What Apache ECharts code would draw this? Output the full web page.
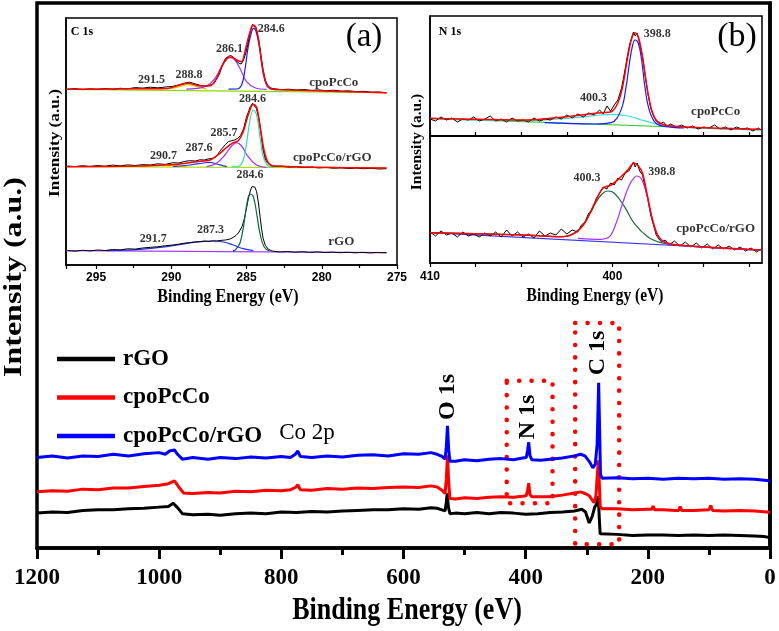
<!DOCTYPE html>
<html>
<head>
<meta charset="utf-8">
<script src="https://cdn.jsdelivr.net/npm/echarts@6.0.0/dist/echarts.min.js"></script>
<style>
html, body { margin: 0; padding: 0; background: #fff; }
#main { width: 779px; height: 631px; }
</style>
</head>
<body>
<div id="main"></div>
<script>
// survey spectra: [binding energy (eV), intensity (a.u.)]
const surveyRGO = [[1200,6.4],[1175,6.6],[1150,6.5],[1125,6.9],[1100,7.0],[1075,7.0],[1050,7.2],[1025,7.3],[1000,7.5],[985,7.6],[977,8.2],[970,7.4],[962,6.3],[945,6.1],[920,6.2],[900,6.0],[875,6.3],[850,6.4],[825,6.3],[800,6.6],[775,6.5],[750,6.7],[725,6.6],[700,6.8],[675,6.9],[650,7.0],[625,7.0],[600,7.2],[575,7.1],[555,7.4],[545,7.3],[537,7.0],[532,6.8],[530,8.3],[528.5,10.0],[526.5,7.5],[524,6.3],[515,6.4],[500,6.3],[480,6.5],[460,6.3],[440,6.5],[420,6.4],[400,6.2],[380,6.3],[360,6.5],[340,6.6],[320,6.8],[308,7.1],[302,6.6],[296,4.6],[291,5.8],[287,7.5],[284,8.0],[281,9.5],[279.5,5.5],[278,2.6],[275,2.4],[250,2.5],[225,2.3],[200,2.4],[175,2.4],[150,2.3],[125,2.4],[100,2.3],[75,2.4],[50,2.3],[25,2.2],[10,2.1],[0,1.9]];
const surveyPc = [[1200,10.3],[1175,10.5],[1150,10.4],[1125,10.8],[1100,10.7],[1075,11.0],[1050,11.0],[1025,11.3],[1000,11.5],[985,11.8],[975,12.3],[968,11.2],[960,10.1],[945,10.0],[920,10.2],[900,10.1],[875,10.4],[850,10.3],[825,10.6],[800,10.5],[785,10.7],[777,11.1],[773,11.6],[769,10.7],[750,10.6],[725,10.9],[700,10.8],[675,11.0],[650,10.9],[625,11.1],[600,11.2],[575,11.1],[555,11.4],[545,11.2],[537,10.6],[532,10.0],[530,12.5],[528,17.0],[526,12.0],[524,9.1],[515,9.0],[500,9.2],[480,9.1],[460,9.3],[440,9.4],[420,9.3],[405,9.5],[399,9.6],[397,10.6],[395,11.9],[393,9.8],[390,9.4],[375,9.4],[360,9.4],[340,9.7],[320,10.1],[310,10.3],[303,10.0],[296,9.6],[291,8.8],[288,8.3],[285,9.5],[283,13.0],[281,16.1],[279.5,12.0],[278,7.6],[275,7.2],[250,7.2],[225,7.0],[200,7.1],[194,7.1],[191.5,7.7],[189,7.0],[175,7.0],[155,6.9],[149.5,6.9],[147,7.6],[144.5,6.9],[125,6.9],[100,7.0],[97,7.8],[94,6.9],[75,6.8],[50,6.9],[25,6.8],[5,6.6],[0,6.5]];
const surveyPcRGO = [[1200,16.6],[1175,16.9],[1150,16.5],[1125,16.9],[1100,16.8],[1075,17.2],[1050,16.9],[1025,17.3],[1000,17.5],[990,17.2],[983,17.8],[975,18.0],[970,17.2],[962,16.3],[945,16.6],[920,16.3],[900,16.6],[875,16.4],[850,16.7],[825,16.5],[800,16.8],[785,16.6],[777,17.2],[773,17.8],[769,16.8],[750,16.6],[725,16.9],[700,16.7],[675,17.0],[650,17.1],[625,16.9],[600,17.3],[575,17.2],[555,17.5],[545,17.2],[537,16.8],[532,16.3],[530,18.5],[528,22.4],[526,18.0],[524,15.9],[515,15.9],[500,16.2],[480,16.0],[460,16.3],[440,16.4],[420,16.2],[405,16.5],[399,16.6],[397,17.8],[395,19.4],[393,17.0],[390,16.2],[375,16.1],[360,16.3],[340,16.5],[320,16.9],[310,17.2],[303,16.9],[296,15.9],[290,14.7],[286,15.4],[283,19.0],[280.5,30.3],[279,22.0],[277.5,13.5],[275,12.8],[250,12.9],[225,12.7],[200,12.8],[175,12.6],[150,12.8],[125,12.7],[100,12.8],[75,12.6],[50,12.7],[25,12.6],[5,12.4],[0,12.2]];
const surveyNames = ['rGO', 'cpoPcCo', 'cpoPcCo/rGO'];
// dotted regions around N 1s and C 1s: [[eV, intensity], [eV, intensity]]
const boxN1s = [[431, 30.7], [356, 8.2]];
const boxC1s = [[319, 41.3], [247, 0.7]];

// inset (a) C 1s
const c1sPcRaw = [[296.9,175.7],[296.4,176.4],[295.9,175.4],[295.4,176.2],[294.9,175.6],[294.4,176.5],[293.9,175.8],[293.4,176.7],[292.9,176.2],[292.4,177.4],[291.9,176.9],[291.4,177.8],[290.9,177.2],[290.4,178.0],[289.9,178.6],[289.5,180.2],[289.1,181.9],[288.8,182.8],[288.5,181.5],[288.1,179.8],[287.8,179.0],[287.5,179.5],[287.2,181.0],[287.0,185.5],[286.8,191.0],[286.6,200.0],[286.4,206.7],[286.2,208.7],[286.05,209.5],[285.9,208.0],[285.7,204.5],[285.5,201.7],[285.35,201.0],[285.2,205.0],[285.05,212.0],[284.9,222.0],[284.75,233.0],[284.6,240.5],[284.5,239.5],[284.35,236.0],[284.2,226.0],[284.05,210.0],[283.9,195.0],[283.75,184.5],[283.6,179.5],[283.4,177.0],[283.1,176.0],[282.7,175.3],[282.2,175.8],[281.7,175.0],[281.2,175.5],[280.7,174.6],[280.2,175.1],[279.7,174.3],[279.2,174.8],[278.7,173.9],[278.2,174.2],[277.7,173.4],[277.2,173.7],[276.7,172.8],[276.2,173.0],[275.7,172.2]];
const c1sPcFit = [[296.96,175.7],[292.0,176.2],[290.31,176.5],[289.43,180.0],[288.87,181.7],[288.1,179.0],[287.43,179.2],[286.99,186.7],[286.66,198.3],[286.21,207.7],[285.99,208.0],[285.66,205.0],[285.33,203.3],[285.11,213.3],[284.89,226.7],[284.66,238.3],[284.55,240.0],[284.38,237.7],[284.15,220.0],[283.93,196.7],[283.67,181.0],[283.33,176.3],[282.12,175.0],[275.69,172.3]];
const c1sPc2846 = [[286.2,175.9],[285.66,176.0],[285.33,180.0],[285.11,195.0],[284.89,218.3],[284.66,233.3],[284.55,236.7],[284.38,234.3],[284.15,218.3],[283.93,195.0],[283.67,180.0],[283.33,175.9],[282.8,175.4]];
const c1sPc2861 = [[289.0,175.9],[288.32,176.6],[287.65,179.0],[287.1,186.7],[286.66,198.3],[286.32,205.7],[286.06,207.3],[285.77,205.0],[285.44,196.7],[285.0,183.3],[284.44,177.3],[283.67,175.7]];
const c1sPc2888 = [[290.31,175.9],[289.43,178.3],[288.9,180.3],[288.32,178.3],[287.65,175.9]];
const c1sPcBase = [[296.96,175.7],[275.69,172.3]];
const c1sMixRaw = [[296.9,99.0],[296.4,98.4],[295.9,99.3],[295.4,98.6],[294.9,99.5],[294.4,98.8],[293.9,99.9],[293.4,99.2],[292.9,100.1],[292.4,99.5],[291.9,100.4],[291.4,100.0],[290.9,101.2],[290.4,100.6],[289.9,102.3],[289.5,102.0],[289.1,103.6],[288.8,104.3],[288.4,104.0],[288.1,105.2],[287.8,105.0],[287.5,106.2],[287.2,106.7],[287.0,108.5],[286.8,113.3],[286.6,117.0],[286.4,120.5],[286.2,123.5],[286.0,124.2],[285.8,125.0],[285.6,126.5],[285.4,129.5],[285.2,136.0],[285.0,148.3],[284.85,154.0],[284.75,158.3],[284.6,161.7],[284.5,161.0],[284.35,156.7],[284.2,148.0],[284.05,133.0],[283.9,115.0],[283.75,106.0],[283.6,102.0],[283.4,99.5],[283.1,98.6],[282.7,98.9],[282.2,97.9],[281.7,98.3],[281.2,97.5],[280.7,97.9],[280.2,97.1],[279.7,97.6],[279.2,96.8],[278.7,97.2],[278.2,96.5],[277.7,96.9],[277.2,96.3],[276.7,96.7],[276.2,96.0],[275.7,96.3]];
const c1sMixFit = [[296.96,98.3],[292.08,99.0],[290.53,100.0],[289.43,101.0],[288.32,103.3],[287.43,105.0],[286.77,111.7],[286.32,117.7],[285.88,122.3],[285.55,124.3],[285.22,133.3],[284.89,150.0],[284.55,160.7],[284.33,157.7],[284.11,140.0],[283.84,115.0],[283.56,102.3],[283.22,99.0],[275.69,97.0]];
const c1sMix2846 = [[286.0,98.2],[285.55,98.5],[285.22,105.0],[285.0,121.7],[284.77,145.0],[284.55,155.0],[284.33,150.0],[284.11,128.3],[283.89,108.3],[283.56,99.0],[283.22,97.7]];
const c1sMix2857 = [[287.65,98.3],[286.99,101.7],[286.44,110.0],[285.99,119.0],[285.66,122.3],[285.33,119.0],[284.89,108.3],[284.33,100.0],[283.67,97.7]];
const c1sMix2876 = [[289.87,98.3],[288.76,100.0],[287.88,102.0],[287.43,102.7],[286.99,101.0],[286.32,98.3]];
const c1sMix2907 = [[292.08,98.3],[290.53,99.7],[288.98,98.3]];
const c1sMixBase = [[296.96,98.3],[275.69,97.0]];
const c1sRgoRaw = [[296.9,14.3],[296.4,13.8],[295.9,14.7],[295.4,14.1],[294.9,15.0],[294.4,14.5],[293.9,15.4],[293.4,15.1],[292.9,16.2],[292.4,15.9],[291.9,17.0],[291.4,17.7],[290.9,18.2],[290.4,19.3],[289.9,20.0],[289.5,20.8],[289.1,21.9],[288.8,22.3],[288.4,23.1],[288.1,23.3],[287.8,24.0],[287.5,23.6],[287.2,24.2],[287.0,24.0],[286.7,24.6],[286.4,25.0],[286.1,26.0],[285.9,27.5],[285.7,29.5],[285.5,33.0],[285.3,38.5],[285.15,46.0],[285.0,57.0],[284.9,65.0],[284.75,74.0],[284.65,78.3],[284.55,80.0],[284.45,78.0],[284.33,73.3],[284.2,61.0],[284.1,48.3],[284.0,36.0],[283.9,26.7],[283.75,19.5],[283.55,15.7],[283.3,14.0],[282.8,13.0],[282.3,13.5],[281.8,12.8],[281.3,13.3],[280.8,12.6],[280.3,13.1],[279.8,12.5],[279.3,12.9],[278.8,12.3],[278.3,12.7],[277.8,12.2],[277.3,12.6],[276.8,12.1],[276.3,12.5],[275.7,12.2]];
const c1sRgo2846 = [[285.9,14.3],[285.77,14.8],[285.44,21.7],[285.17,41.7],[284.95,63.3],[284.77,71.0],[284.55,68.3],[284.33,51.7],[284.11,31.7],[283.84,18.3],[283.45,13.7]];
const c1sRgo2873 = [[294.3,14.3],[292.08,15.7],[290.31,18.3],[288.98,21.7],[288.1,23.3],[287.32,24.0],[286.55,23.0],[285.88,20.0],[285.22,16.3],[284.55,14.3]];
const c1sRgoBase = [[296.96,14.3],[275.69,12.3]];
const c1sPeakLabels = [['284.6',283.35,236],['286.1',286.14,216],['288.8',288.83,190],['291.5',291.31,185],['284.6',284.6,166],['285.7',286.5,132.5],['287.6',288.16,117.5],['290.7',290.52,109],['284.6',284.77,90],['287.3',287.4,35],['291.7',291.2,26]];
const c1sSampleLabels = [['cpoPcCo',279.2,182.5],['cpoPcCo/rGO',279.3,107],['rGO',278.7,23]];

// inset (b) N 1s
const n1sPcRaw = [[410.0,17],[409.7,15],[409.4,19],[409.1,16],[408.8,18],[408.5,14],[408.2,17],[407.9,16],[407.6,19],[407.3,15],[407.0,17],[406.7,20],[406.4,15],[406.1,17],[405.8,14],[405.5,18],[405.2,15],[404.9,16],[404.6,14],[404.3,18],[404.0,15],[403.7,17],[403.4,16],[403.1,19],[402.8,17],[402.5,21],[402.2,18],[401.9,22],[401.6,19],[401.3,23],[401.0,21],[400.7,26],[400.5,22],[400.3,30],[400.1,25],[399.9,31],[399.7,36],[399.5,48],[399.35,62],[399.2,78],[399.05,92],[398.95,98],[398.85,104],[398.75,100],[398.65,103],[398.55,96],[398.45,88],[398.35,79],[398.2,60],[398.05,42],[397.9,28],[397.75,20],[397.6,15],[397.4,12],[397.2,14],[397.0,10],[396.8,12],[396.5,9],[396.2,11],[395.9,8],[395.6,10],[395.3,7],[395.0,9],[394.7,8],[394.4,11],[394.1,7],[393.8,9],[393.5,6],[393.2,9],[392.9,7],[392.6,8],[392.3,5],[392.0,8],[391.85,6]];
const n1sPcFit = [[410,17.7],[404.63,16.0],[402.8,18.7],[401.71,21.0],[400.62,23.3],[400.07,24.3],[399.71,32.7],[399.44,49.3],[399.16,79.3],[398.94,97.7],[398.76,103.3],[398.58,99.3],[398.35,79.3],[398.11,49.3],[397.85,26.0],[397.52,14.3],[396.8,10.0],[391.88,6.7]];
const n1sPc3988 = [[403.72,13.3],[400.98,12.0],[400.07,13.3],[399.53,26.0],[399.25,49.3],[399.07,72.7],[398.89,91.0],[398.76,96.0],[398.58,92.7],[398.4,76.0],[398.22,49.3],[397.98,26.0],[397.61,12.7],[396.98,9.3],[396.07,8.0]];
const n1sPc4003 = [[410,17.3],[404.63,15.3],[401.89,18.7],[400.62,21.0],[399.89,21.7],[399.16,20.0],[398.25,15.3],[397.34,11.0],[396.07,8.7],[391.88,6.0]];
const n1sPcBase = [[410,17.7],[391.88,6.0]];
const n1sMixRaw = [[410.0,31],[409.7,27],[409.4,32],[409.1,28],[408.8,30],[408.5,26],[408.2,31],[407.9,27],[407.6,29],[407.3,26],[407.0,30],[406.7,27],[406.4,31],[406.1,26],[405.8,33],[405.5,27],[405.2,31],[404.9,26],[404.6,29],[404.3,25],[404.0,32],[403.7,27],[403.4,30],[403.1,28],[402.8,34],[402.5,29],[402.2,33],[401.9,31],[401.7,38],[401.5,41],[401.3,50],[401.1,53],[400.9,64],[400.7,70],[400.5,76],[400.3,74],[400.1,80],[399.9,78],[399.7,85],[399.5,83],[399.3,90],[399.1,92],[398.95,97],[398.85,101],[398.75,96],[398.65,100],[398.5,92],[398.35,88],[398.2,75],[398.05,63],[397.9,48],[397.75,38],[397.6,28],[397.45,24],[397.3,21],[397.1,23],[396.9,18],[396.6,22],[396.3,17],[396.0,21],[395.7,16],[395.4,20],[395.1,15],[394.8,19],[394.5,14],[394.2,18],[393.9,14],[393.6,17],[393.3,13],[393.0,16],[392.7,12],[392.4,15],[392.1,11],[391.85,14]];
const n1sMixFit = [[410,30.3],[404.63,27.7],[402.8,26.3],[402.08,29.7],[401.53,39.7],[400.98,59.7],[400.53,74.7],[400.07,78.0],[399.62,84.7],[399.16,93.0],[398.83,99.7],[398.62,98.0],[398.35,89.7],[398.07,66.3],[397.8,43.0],[397.52,28.0],[397.16,21.3],[396.43,18.0],[391.88,13.0]];
const n1sMix4003 = [[410,30.3],[404.63,28.0],[402.8,26.3],[402.08,30.3],[401.53,39.7],[400.98,58.0],[400.62,68.0],[400.26,72.0],[399.89,69.7],[399.34,56.3],[398.8,39.7],[398.07,26.3],[397.34,20.3],[396.43,17.7],[391.88,13.0]];
const n1sMix3988 = [[401.89,24.7],[400.62,23.7],[400.16,26.3],[399.8,39.7],[399.44,59.7],[399.07,78.0],[398.8,85.3],[398.67,87.0],[398.43,84.7],[398.16,71.3],[397.89,49.7],[397.61,31.3],[397.34,23.0],[396.8,18.7],[391.88,13.0]];
const n1sMixBase = [[410,30.3],[391.88,13.0]];
const n1sTopLabels = [['398.8',397.54,102],['400.3',401.04,38]];
const n1sBottomLabels = [['400.3',401.39,85],['398.8',397.3,91]];
const n1sSampleTop = [['cpoPcCo',394.34,24]];
const n1sSampleBottom = [['cpoPcCo/rGO',394.34,34]];
const n1sTicks = [392.5, 395, 397.5, 400, 402.5, 405, 407.5, 410];
const n1sTickLabels = [400, 410];

const SERIF = '"Liberation Serif", "Times New Roman", serif';
const SANS = '"Liberation Sans", Arial, sans-serif';

const chart = echarts.init(document.getElementById('main'));

function line(name, data, color, width, idx, smooth) {
    return {
        type: 'line', name: name, data: data,
        xAxisIndex: idx, yAxisIndex: idx,
        symbol: 'none', silent: true,
        smooth: smooth || false,
        lineStyle: {color: color, width: width},
        itemStyle: {color: color}
    };
}

function labels(list, idx, size) {
    return {
        type: 'scatter', xAxisIndex: idx, yAxisIndex: idx,
        symbolSize: 1, silent: true,
        itemStyle: {color: 'rgba(0,0,0,0)'},
        data: list.map(function (l) { return {name: l[0], value: [l[1], l[2]]}; }),
        label: {show: true, position: 'inside', formatter: '{b}', fontFamily: SERIF,
                fontWeight: 'bold', fontSize: size, color: '#000'}
    };
}

function insetX(idx, min, max, extra) {
    let ax = {
        gridIndex: idx, type: 'value', min: min, max: max, inverse: true,
        axisLine: {onZero: false, lineStyle: {color: '#000', width: 1.5}},
        axisTick: {length: 4, lineStyle: {color: '#000', width: 1.2}},
        splitLine: {show: false},
        axisLabel: {fontFamily: SANS, fontWeight: 'bold', fontSize: 12, color: '#000', margin: 7}
    };
    return Object.assign(ax, extra);
}

function plainY(idx, max, width) {
    return {
        gridIndex: idx, type: 'value', min: 0, max: max,
        axisLine: {show: true, lineStyle: {color: '#000', width: width}},
        axisTick: {show: false}, axisLabel: {show: false}, splitLine: {show: false}
    };
}

function text(str, x, y, size, weight, opts) {
    return Object.assign({
        type: 'text', x: x, y: y, silent: true,
        style: {text: str, fontFamily: SERIF, fontSize: size, fontWeight: weight,
                fill: '#000', align: 'center', verticalAlign: 'middle'}
    }, opts || {});
}

const dotted = {
    color: 'rgba(0,0,0,0)', borderColor: '#ff0000', borderWidth: 4.5,
    borderType: [0.1, 12.3], borderCap: 'round'
};

const survey = [
    line(surveyNames[0], surveyRGO, '#000000', 3, 0),
    line(surveyNames[1], surveyPc, '#ff0000', 3, 0),
    line(surveyNames[2], surveyPcRGO, '#0000ff', 3, 0)
];
survey[2].markArea = {
    silent: true, itemStyle: dotted, label: {show: false},
    data: [[{coord: boxN1s[0]}, {coord: boxN1s[1]}], [{coord: boxC1s[0]}, {coord: boxC1s[1]}]]
};

const option = {
    animation: false,
    backgroundColor: '#fff',
    grid: [
        {left: 37, top: 3, width: 733, height: 545, show: true, borderColor: '#000', borderWidth: 3.5},
        {left: 66, top: 18, width: 331, height: 247, show: true, borderColor: '#000', borderWidth: 1.5},
        {left: 430, top: 16, width: 332, height: 120, show: true, borderColor: '#000', borderWidth: 1.5},
        {left: 430, top: 136, width: 332, height: 127, show: true, borderColor: '#000', borderWidth: 1.5}
    ],
    xAxis: [
        {
            gridIndex: 0, type: 'value', min: 0, max: 1200, interval: 200, inverse: true,
            axisLine: {onZero: false, lineStyle: {color: '#000', width: 3.5}},
            axisTick: {length: 11, lineStyle: {color: '#000', width: 3}},
            minorTick: {show: true, splitNumber: 2, length: 7, lineStyle: {color: '#000', width: 3}},
            splitLine: {show: false},
            axisLabel: {fontFamily: SERIF, fontWeight: 'bold', fontSize: 23, color: '#000', margin: 19,
                        formatter: function (v) { return String(v); }}
        },
        insetX(1, 275, 297, {interval: 5,
            minorTick: {show: true, splitNumber: 2, length: 3, lineStyle: {color: '#000', width: 1.2}},
            axisLabel: {fontFamily: SANS, fontWeight: 'bold', fontSize: 12, color: '#000', margin: 7,
                        showMaxLabel: false}}),
        insetX(2, 391.8, 410, {
            axisTick: {inside: true, length: 4, customValues: n1sTicks, lineStyle: {color: '#000', width: 1.2}},
            axisLabel: {show: false}}),
        insetX(3, 391.8, 410, {
            axisTick: {length: 4, customValues: n1sTicks, lineStyle: {color: '#000', width: 1.2}},
            axisLabel: {customValues: n1sTickLabels, fontFamily: SANS, fontWeight: 'bold', fontSize: 12, color: '#000', margin: 8}})
    ],
    yAxis: [plainY(0, 100, 3.5), plainY(1, 247, 1.5), plainY(2, 120, 1.5), plainY(3, 127, 1.5)],
    legend: {
        data: surveyNames, orient: 'vertical', left: 52, top: 342,
        icon: 'rect', itemWidth: 58, itemHeight: 4.5, itemGap: 14.5, selectedMode: false,
        textStyle: {fontFamily: SERIF, fontWeight: 'bold', fontSize: 23, color: '#000',
                    lineHeight: 24, padding: [0, 0, 0, 3]}
    },
    series: survey.concat([
        // C 1s, cpoPcCo
        line('a1base', c1sPcBase, '#88dd00', 1.2, 1),
        line('a1c3', c1sPc2888, '#e0c000', 1.2, 1, 0.4),
        line('a1c2', c1sPc2861, '#9933ff', 1.2, 1, 0.4),
        line('a1c1', c1sPc2846, '#1a1aff', 1.2, 1, 0.4),
        line('a1raw', c1sPcRaw, '#000', 1, 1),
        line('a1fit', c1sPcFit, '#ff0000', 1.5, 1, 0.3),
        // C 1s, cpoPcCo/rGO
        line('a2base', c1sMixBase, '#aadd00', 1.2, 1),
        line('a2c4', c1sMix2907, '#e0c000', 1.2, 1, 0.4),
        line('a2c3', c1sMix2876, '#2233ff', 1.2, 1, 0.4),
        line('a2c2', c1sMix2857, '#9933ff', 1.2, 1, 0.4),
        line('a2c1', c1sMix2846, '#33e0a8', 1.2, 1, 0.4),
        line('a2raw', c1sMixRaw, '#000', 1, 1),
        line('a2fit', c1sMixFit, '#ff0000', 1.5, 1, 0.3),
        // C 1s, rGO
        line('a3base', c1sRgoBase, '#a040ff', 1.2, 1),
        line('a3c2', c1sRgo2873, '#2233ee', 1.2, 1, 0.4),
        line('a3raw', c1sRgoRaw, '#000', 1, 1),
        line('a3c1', c1sRgo2846, '#0a6a3a', 1.2, 1, 0.4),
        labels(c1sPeakLabels, 1, 12),
        labels(c1sSampleLabels, 1, 13),
        // N 1s, cpoPcCo
        line('b1base', n1sPcBase, '#33cc33', 1.2, 2),
        line('b1c2', n1sPc4003, '#33dddd', 1.2, 2, 0.4),
        line('b1raw', n1sPcRaw, '#000', 1, 2),
        line('b1c1', n1sPc3988, '#1a1aff', 1.2, 2, 0.4),
        line('b1fit', n1sPcFit, '#ff0000', 1.5, 2, 0.3),
        labels(n1sTopLabels, 2, 12),
        labels(n1sSampleTop, 2, 13),
        // N 1s, cpoPcCo/rGO
        line('b2base', n1sMixBase, '#3333ff', 1.2, 3),
        line('b2raw', n1sMixRaw, '#000', 1, 3),
        line('b2c2', n1sMix4003, '#1e6b3a', 1.2, 3, 0.4),
        line('b2c1', n1sMix3988, '#a033ff', 1.2, 3, 0.4),
        line('b2fit', n1sMixFit, '#ff0000', 1.5, 3, 0.3),
        labels(n1sBottomLabels, 3, 12),
        labels(n1sSampleBottom, 3, 13)
    ]),
    graphic: [
        text('Binding Energy (eV)', 407, 611, 26, 'bold', {scaleY: 1.2}),
        text('Intensity (a.u.)', 15, 277, 25, 'bold', {rotation: Math.PI / 2, scaleX: 1.28}),
        text('O 1s', 448, 397, 24, 'bold', {rotation: Math.PI / 2}),
        text('N 1s', 528, 417, 24, 'bold', {rotation: Math.PI / 2}),
        text('C 1s', 598, 353, 24, 'bold', {rotation: Math.PI / 2}),
        text('Co 2p', 307, 433, 23, 'normal'),
        text('C 1s', 82, 32, 12, 'bold'),
        text('(a)', 364, 37, 33, 'normal'),
        text('N 1s', 450, 32, 12, 'bold'),
        text('(b)', 737, 37, 34, 'normal'),
        text('Binding Energy (eV)', 228, 297, 16, 'bold', {scaleY: 1.15}),
        text('Intensity (a.u.)', 55, 143, 15, 'bold', {rotation: Math.PI / 2, scaleX: 1.15}),
        text('Binding Energy (eV)', 595, 296, 15.5, 'bold', {scaleY: 1.15}),
        text('Intensity (a.u.)', 417, 142, 14, 'bold', {rotation: Math.PI / 2, scaleX: 1.1})
    ]
};
chart.setOption(option);
</script>
</body>
</html>
